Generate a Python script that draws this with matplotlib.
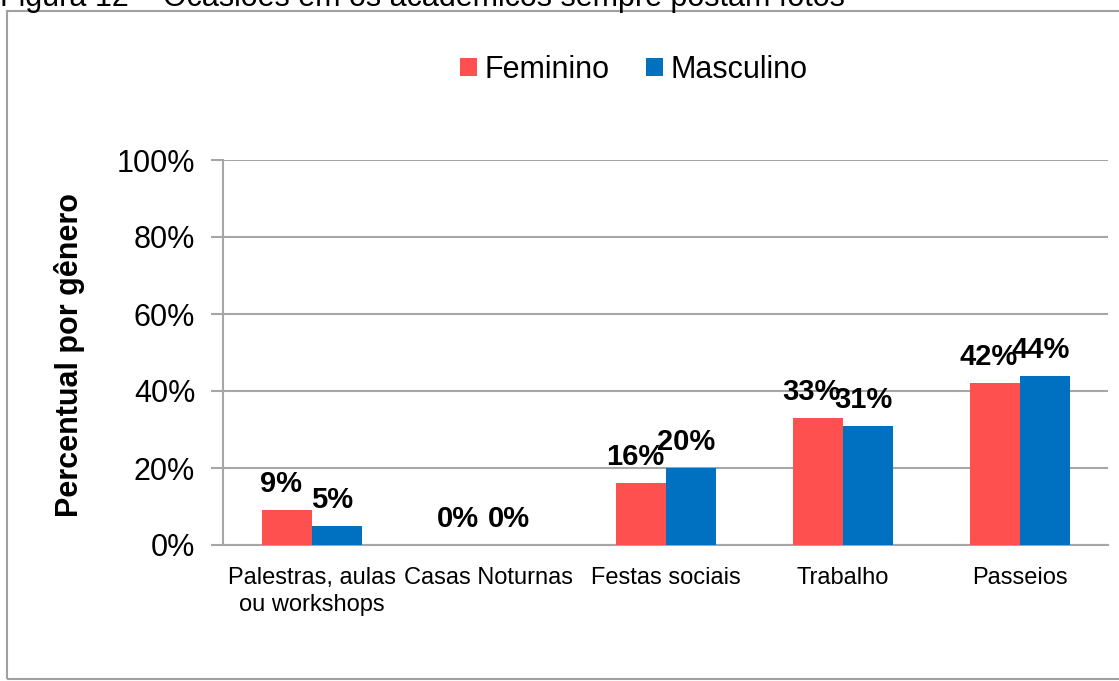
import matplotlib
matplotlib.use("Agg")
import matplotlib.pyplot as plt
from matplotlib.patches import Patch, Rectangle
import numpy as np

categories = ["Palestras, aulas\nou workshops", "Casas Noturnas", "Festas sociais", "Trabalho", "Passeios"]
feminino = [9, 0, 16, 33, 42]
masculino = [5, 0, 20, 31, 44]
series_names = ["Feminino", "Masculino"]
yticks = [0, 20, 40, 60, 80, 100]
ytick_labels = ["0%", "20%", "40%", "60%", "80%", "100%"]
title_text = "Figura 12 – Ocasiões em os acadêmicos sempre postam fotos"
ylabel_text = "Percentual por gênero"

RED = "#FF5050"
BLUE = "#0070C0"
GRID = "#A6A6A6"

plt.rcParams['font.family'] = ['Liberation Sans', 'DejaVu Sans']

W, H = 1119, 681
fig = plt.figure(figsize=(W / 100, H / 100), dpi=100)

# outer frame
fig.patches.append(Rectangle((7 / W, 1 - 679 / H), 1.2, (679 - 11) / H,
                             transform=fig.transFigure, fill=False,
                             edgecolor="#A0A0A0", linewidth=1.5, clip_on=False))
fig.text(0 / W, 1 - 6 / H, title_text, ha="left", va="baseline", fontsize=22)

ax = fig.add_axes([223 / W, 1 - 545 / H, 885 / W, 385 / H])
x = np.arange(len(categories))
w = 50 / 177
b1 = ax.bar(x - w / 2, feminino, w, color=RED, zorder=3)
b2 = ax.bar(x + w / 2, masculino, w, color=BLUE, zorder=3)

for bars, vals, dx in ((b1, feminino, -4), (b2, masculino, -3)):
    for rect, v in zip(bars, vals):
        ax.annotate(f"{v}%", (rect.get_x() + rect.get_width() / 2, rect.get_height()),
                    xytext=(dx, 13), textcoords="offset points", ha="center",
                    va="baseline", fontsize=21, fontweight="bold", zorder=5)

ax.set_xlim(-0.5, len(categories) - 0.5)
ax.set_ylim(0, 100)
ax.set_yticks(yticks)
ax.set_yticklabels(ytick_labels, fontsize=22)
ax.set_xticks(x)
ax.set_xticklabels(categories, fontsize=17, linespacing=1.3)
ax.tick_params(axis="x", length=0, pad=16)
ax.tick_params(axis="y", length=9, width=1.5, color=GRID, pad=11)
ax.yaxis.grid(True, color=GRID, linewidth=1.5, zorder=0)
for s in ("top", "right"):
    ax.spines[s].set_visible(False)
for s in ("left", "bottom"):
    ax.spines[s].set_color(GRID)
    ax.spines[s].set_linewidth(1.5)

fig.text(70 / W, 1 - 355 / H, ylabel_text, rotation=90, ha="center", va="center",
         fontsize=22, fontweight="bold")

handles = [Patch(facecolor=RED), Patch(facecolor=BLUE)]
fig.legend(handles, series_names, loc="center", bbox_to_anchor=(634 / W, 1 - 70 / H),
           ncol=2, frameon=False, fontsize=22, handlelength=0.55, handleheight=0.55,
           handletextpad=0.25, columnspacing=1.2)

fig.savefig("out.png", dpi=100)
